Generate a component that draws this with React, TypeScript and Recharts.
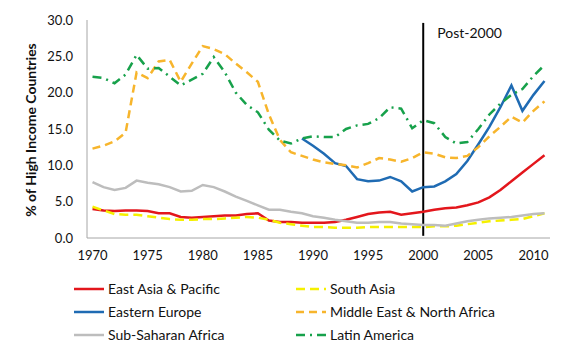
import { LineChart, Line, XAxis, YAxis, ReferenceLine } from 'recharts'

const years = Array.from({ length: 42 }, (_, i) => 1970 + i)

const eastAsia = [4.0, 3.8, 3.7, 3.8, 3.8, 3.7, 3.4, 3.4, 2.9, 2.8, 2.9, 3.0, 3.1, 3.1, 3.3, 3.4, 2.4, 2.2, 2.2, 2.1, 2.1, 2.1, 2.2, 2.5, 2.9, 3.3, 3.5, 3.6, 3.2, 3.4, 3.6, 3.9, 4.1, 4.2, 4.5, 4.9, 5.6, 6.6, 7.8, 9.0, 10.2, 11.4]
const southAsia = [4.3, 3.8, 3.3, 3.2, 3.2, 3.0, 2.8, 2.6, 2.5, 2.5, 2.6, 2.6, 2.7, 2.8, 2.9, 2.8, 2.5, 2.1, 1.9, 1.7, 1.5, 1.5, 1.4, 1.4, 1.4, 1.5, 1.5, 1.5, 1.5, 1.5, 1.5, 1.6, 1.6, 1.7, 1.9, 2.1, 2.3, 2.4, 2.5, 2.6, 3.0, 3.4]
const easternEurope = [null, null, null, null, null, null, null, null, null, null, null, null, null, null, null, null, null, null, null, 13.7, 12.7, 11.6, 10.3, 9.9, 8.1, 7.8, 7.9, 8.4, 7.8, 6.4, 7.0, 7.1, 7.8, 8.8, 10.6, 12.9, 15.3, 18.0, 21.0, 17.5, 19.7, 21.6]
const menaRegion = [12.3, 12.7, 13.3, 14.5, 22.8, 22.0, 24.3, 24.5, 21.5, 24.0, 26.4, 26.0, 25.3, 24.0, 22.8, 21.5, 17.0, 13.5, 11.8, 11.3, 10.8, 10.4, 10.2, 10.0, 9.7, 10.3, 11.0, 10.8, 10.5, 11.0, 11.8, 11.6, 11.1, 11.0, 11.3, 12.5, 14.0, 15.3, 16.7, 15.9, 17.5, 18.8]
const subSaharan = [7.7, 7.0, 6.6, 6.9, 7.9, 7.6, 7.4, 7.0, 6.4, 6.5, 7.3, 7.0, 6.4, 5.7, 5.1, 4.5, 3.9, 3.9, 3.6, 3.4, 3.0, 2.8, 2.5, 2.3, 2.1, 2.1, 2.2, 2.2, 2.0, 1.9, 1.8, 1.8, 1.7, 2.0, 2.3, 2.5, 2.7, 2.8, 2.9, 3.1, 3.3, 3.4]
const latinAmerica = [22.2, 22.0, 21.3, 22.5, 25.2, 23.3, 23.4, 22.2, 21.0, 21.8, 22.6, 24.9, 22.8, 20.0, 18.3, 17.3, 14.9, 13.4, 13.0, 13.7, 14.0, 13.9, 13.9, 15.0, 15.5, 15.7, 16.5, 18.0, 17.8, 15.1, 16.2, 15.8, 13.9, 13.0, 13.2, 15.0, 17.0, 18.5, 19.7, 20.5, 22.3, 23.8]

const xTicks = [1970, 1975, 1980, 1985, 1990, 1995, 2000, 2005, 2010]
const yTicks = [0, 5, 10, 15, 20, 25, 30]

const data = years.map((year, i) => ({
  year,
  eastAsia: eastAsia[i],
  southAsia: southAsia[i],
  easternEurope: easternEurope[i],
  mena: menaRegion[i],
  subSaharan: subSaharan[i],
  latinAmerica: latinAmerica[i],
}))

const SERIES = [
  { key: 'eastAsia', name: 'East Asia & Pacific', color: '#E3161C', dash: undefined },
  { key: 'southAsia', name: 'South Asia', color: '#F5F000', dash: '9 5' },
  { key: 'easternEurope', name: 'Eastern Europe', color: '#1F6BB3', dash: undefined },
  { key: 'mena', name: 'Middle East & North Africa', color: '#F7B52C', dash: '8 5' },
  { key: 'subSaharan', name: 'Sub-Saharan Africa', color: '#BDBDBD', dash: undefined },
  { key: 'latinAmerica', name: 'Latin America', color: '#17A14B', dash: '9 5 2 5' },
]

const FONT = 'Lato, "Open Sans", sans-serif'

function LegendBox() {
  return (
    <div
      style={{
        position: 'absolute',
        left: 0,
        top: 279,
        width: 585,
        display: 'grid',
        gridTemplateColumns: '222px 240px',
        rowGap: '4px',
        paddingLeft: '74px',
        boxSizing: 'border-box',
        fontFamily: FONT,
        fontSize: '14px',
        color: '#111',
      }}
    >
      {SERIES.map((s) => (
        <div key={s.key} style={{ display: 'flex', alignItems: 'center', height: '19px' }}>
          <svg width={32} height={6} style={{ marginRight: '2px' }}>
            <line x1={0} y1={3} x2={30} y2={3} stroke={s.color} strokeWidth={2.5} strokeDasharray={s.dash} />
          </svg>
          <span>{s.name}</span>
        </div>
      ))}
    </div>
  )
}

function PostLabel({ viewBox }: { viewBox?: { x: number; y: number } }) {
  if (!viewBox) return null
  return (
    <text x={viewBox.x + 14} y={viewBox.y + 15} fontSize={14} fontFamily={FONT} fill="#111">
      Post-2000
    </text>
  )
}

function YTitle() {
  const cx = 30
  const cy = 130
  return (
    <text
      x={cx}
      y={cy}
      transform={`rotate(-90, ${cx}, ${cy})`}
      textAnchor="middle"
      dominantBaseline="central"
      fontSize={14}
      fontWeight={700}
      fontFamily={FONT}
      fill="#111"
    >
      % of High Income Countries
    </text>
  )
}

export default function App() {
  return (
    <div style={{ position: 'absolute', left: 0, top: 0, width: 585, height: 358 }}>
      <LineChart width={585} height={358} data={data} margin={{ top: 20, right: 35, bottom: 100, left: 0 }}>
        <XAxis
          dataKey="year"
          type="number"
          domain={[1969.5, 2011.5]}
          ticks={xTicks}
          interval={0}
          tick={{ fontSize: 13, fill: '#111', fontFamily: FONT }}
          tickLine={false}
          tickMargin={7}
          axisLine={{ stroke: '#A6A6A6' }}
          height={20}
        />
        <YAxis
          domain={[0, 30]}
          ticks={yTicks}
          tickFormatter={(v) => v.toFixed(1)}
          tick={{ fontSize: 13, fill: '#111', fontFamily: FONT }}
          tickLine={false}
          tickMargin={8}
          axisLine={{ stroke: '#A6A6A6' }}
          width={87}
          label={<YTitle />}
        />
        <ReferenceLine
          segment={[{ x: 2000, y: 29.6 }, { x: 2000, y: 0.3 }]}
          stroke="#000"
          strokeWidth={2}
          label={<PostLabel />}
        />
        {SERIES.map((s) => (
          <Line
            key={s.key}
            type="linear"
            dataKey={s.key}
            name={s.name}
            stroke={s.color}
            strokeWidth={2.5}
            strokeDasharray={s.dash}
            dot={false}
            isAnimationActive={false}
          />
        ))}
      </LineChart>
      <LegendBox />
    </div>
  )
}
